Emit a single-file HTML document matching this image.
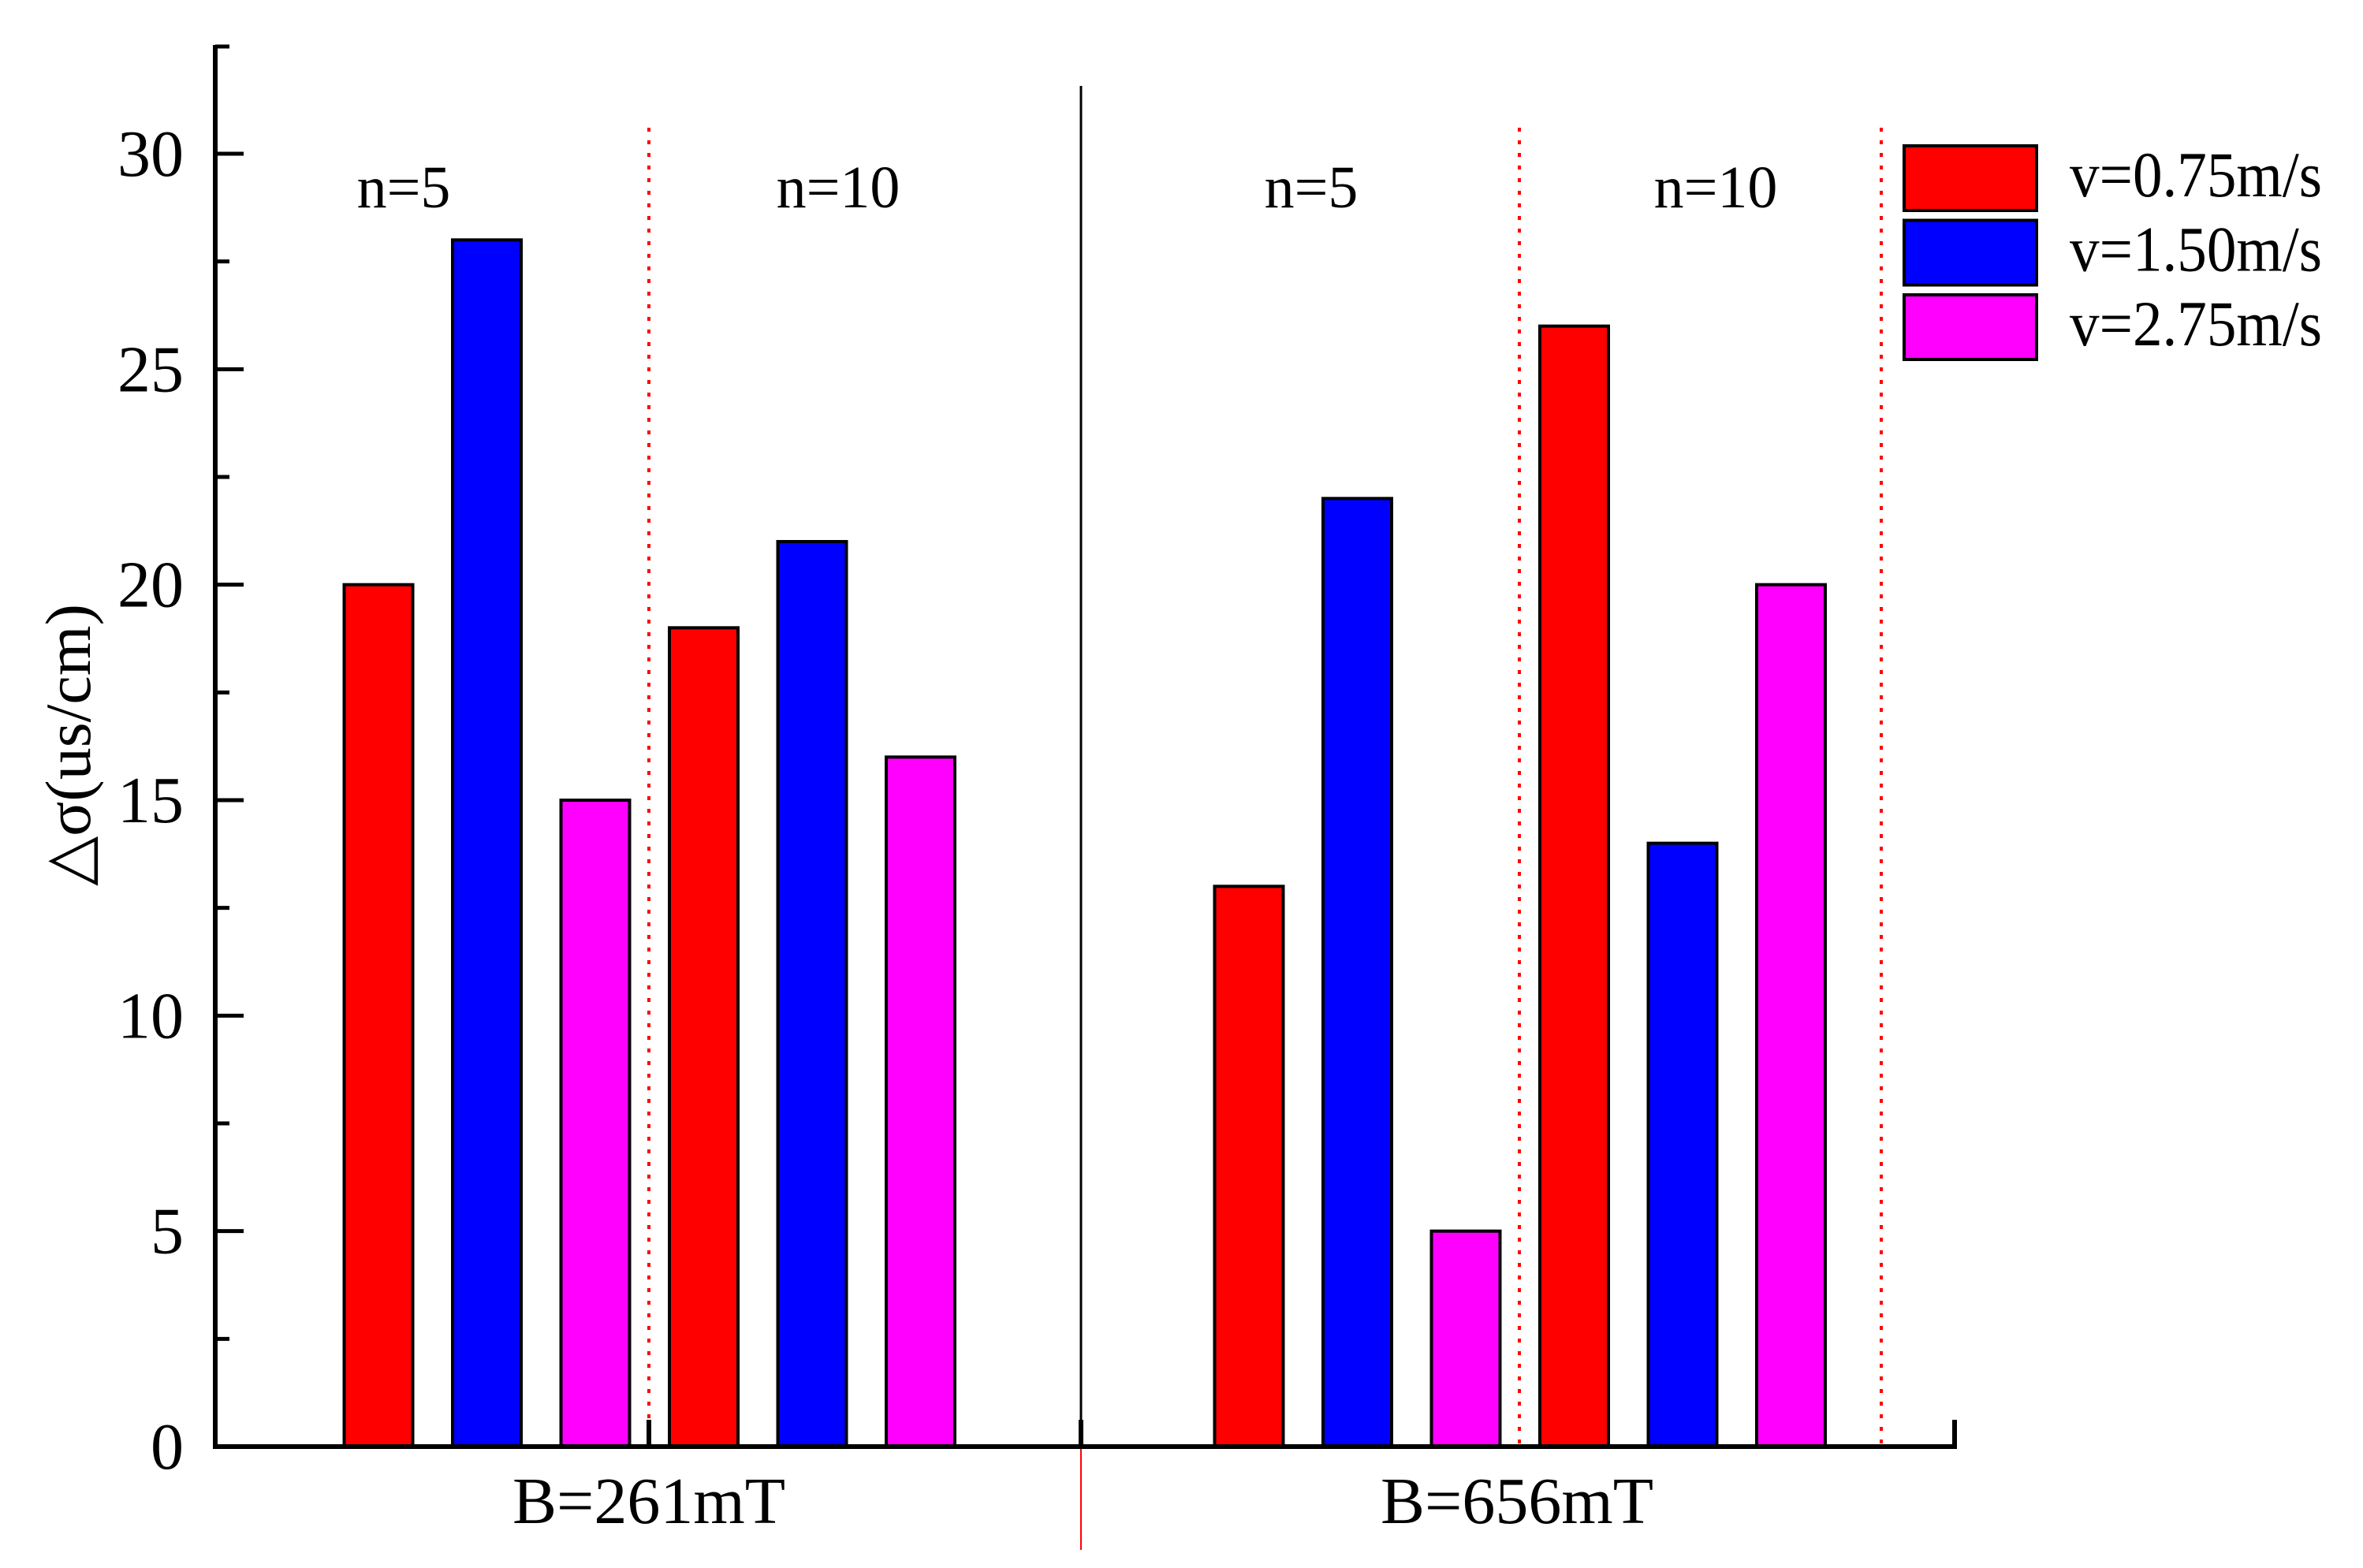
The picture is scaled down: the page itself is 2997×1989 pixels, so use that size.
<!DOCTYPE html>
<html><head><meta charset="utf-8"><style>
html,body{margin:0;padding:0;background:#fff;}
svg text{font-family:"Liberation Serif",serif;fill:#000;}
</style></head><body>
<svg id="chart" width="2997" height="1984" viewBox="0 0 2997 1984">
<g id="bars"></g>
<g id="axes"></g>
</svg>
<script>
const groups = ["B=261mT", "B=656mT"];
const subgroups = ["n=5", "n=10"];
const series = ["v=0.75m/s", "v=1.50m/s", "v=2.75m/s"];
const colors = ["#ff0000", "#0000ff", "#ff00ff"];
const valuesB261 = [[20, 28, 15], [19, 21, 16]];
const valuesB656 = [[13, 22, 5], [26, 14, 20]];
const yTicks = [0, 5, 10, 15, 20, 25, 30];

const NS = "http://www.w3.org/2000/svg";
const X0 = 273, Y0 = 1835, PX = (1835 - 195) / 30;
function yScale(v) { return Y0 - v * PX; }
function xScale(g, s, k) { return 480 + g * 1104 + s * 412.5 + k * 137.5; }
const BW = 87;
const subLabelX = [[512, 1063], [1663, 2176]];
function mk(tag, attrs, parent) {
  const e = document.createElementNS(NS, tag);
  for (const k in attrs) e.setAttribute(k, attrs[k]);
  parent.appendChild(e);
  return e;
}
const bars = document.getElementById("bars");
const axes = document.getElementById("axes");
[valuesB261, valuesB656].forEach((gv, g) => {
  gv.forEach((sv, s) => {
    sv.forEach((v, k) => {
      const cx = xScale(g, s, k);
      const r = mk("rect", {x: cx - BW / 2, y: yScale(v), width: BW, height: Y0 - yScale(v), fill: colors[k], stroke: "#000", "stroke-width": 4}, bars);
      
      
    });
    const t = mk("text", {x: subLabelX[g][s], y: 263, "font-size": 76, "text-anchor": "middle"}, axes);
    t.textContent = subgroups[s];
    
    
  });
  const gl = mk("text", {x: [823, 1924][g], y: 1932, "font-size": 84, "text-anchor": "middle"}, axes);
  gl.textContent = groups[g];
  
  
});
[823, 1927, 2386].forEach(x => {
  const l = mk("line", {x1: x, y1: 162, x2: x, y2: Y0, stroke: "#ff0000", "stroke-width": 4, "stroke-dasharray": "5 11"}, axes);
  
  
});
let gd = mk("line", {x1: 1371, y1: 109, x2: 1371, y2: Y0, stroke: "#000", "stroke-width": 3}, axes);


let rd = mk("line", {x1: 1371, y1: Y0, x2: 1371, y2: 1966, stroke: "#ff0000", "stroke-width": 2}, axes);


[823, 1371, 2479].forEach(x => {
  const l = mk("line", {x1: x, y1: Y0, x2: x, y2: Y0 - 34, stroke: "#000", "stroke-width": 6}, axes);
  
  
});
let xa = mk("line", {x1: X0 - 3, y1: Y0, x2: 2482, y2: Y0, stroke: "#000", "stroke-width": 6}, axes);


let ya = mk("line", {x1: X0, y1: 57, x2: X0, y2: Y0 + 3, stroke: "#000", "stroke-width": 6}, axes);


let topTick = mk("line", {x1: X0, y1: 59, x2: X0 + 18, y2: 59, stroke: "#000", "stroke-width": 5}, axes);


yTicks.forEach((v, i) => {
  const t = mk("line", {x1: X0, y1: yScale(v), x2: X0 + 36, y2: yScale(v), stroke: "#000", "stroke-width": 5}, axes);
  
  
  if (i < yTicks.length - 1) {
    const m = mk("line", {x1: X0, y1: yScale(v + 2.5), x2: X0 + 18, y2: yScale(v + 2.5), stroke: "#000", "stroke-width": 5}, axes);
    
    
  }
  const lb = mk("text", {x: 233, y: yScale(v) + 28, "font-size": 84, "text-anchor": "end"}, axes);
  lb.textContent = v;
  
  
});
let yt = mk("text", {x: 0, y: 0, "font-size": 82, "text-anchor": "middle", transform: "translate(114,945) rotate(-90)"}, axes);
yt.textContent = "△σ(us/cm)";


series.forEach((s, k) => {
  const y = 185 + k * 94.5;
  const r = mk("rect", {x: 2415, y: y, width: 168, height: 82, fill: colors[k], stroke: "#000", "stroke-width": 4}, axes);
  
  
  const t = mk("text", {x: 2625, y: y + 64, "font-size": 82, textLength: 320, lengthAdjust: "spacingAndGlyphs"}, axes);
  t.textContent = s;
  
  
});
</script>
</body></html>
